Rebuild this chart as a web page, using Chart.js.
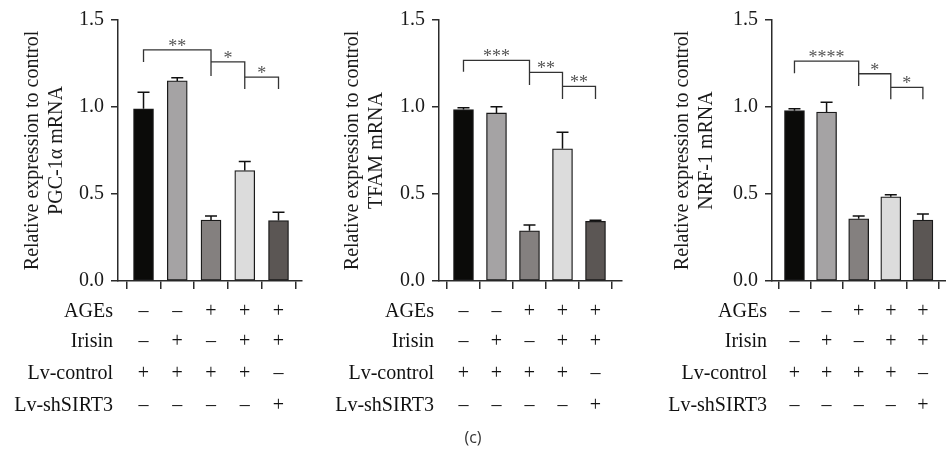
<!DOCTYPE html>
<html>
<head>
<meta charset="utf-8">
<script src="https://cdn.jsdelivr.net/npm/chart.js@4.4.0/dist/chart.umd.min.js"></script>
<style>
  body { margin: 0; background: #fff; }
  #wrap { position: relative; width: 946px; height: 453px; overflow: hidden; }
  canvas { position: absolute; top: 0; }
  #cap { position: absolute; left: 0; width: 946px; top: 426px; text-align: center;
         font: 16px "Open Sans", sans-serif; color: #333; }
</style>
</head>
<body>
<div id="wrap">
  <canvas id="chart1" width="310" height="453" style="left:0px"></canvas>
  <canvas id="chart2" width="316" height="453" style="left:310px"></canvas>
  <canvas id="chart3" width="320" height="453" style="left:626px"></canvas>
  <div id="cap">(c)</div>
</div>
<script>
// treatment table rows under each panel
const rowLabels = ['AGEs', 'Irisin', 'Lv-control', 'Lv-shSIRT3'];
const agesRow   = ['–', '–', '+', '+', '+'];
const irisinRow = ['–', '+', '–', '+', '+'];
const lvCtrlRow = ['+', '+', '+', '+', '–'];
const lvShRow   = ['–', '–', '–', '–', '+'];

const yTicks = [0, 0.5, 1.0, 1.5];
const barColors = ['#0b0b09', '#a5a3a4', '#84807f', '#dcdcdc', '#5b5654'];

// PGC-1α
const pgcMean = [0.99, 1.15, 0.35, 0.635, 0.347];
const pgcErr  = [0.095, 0.018, 0.024, 0.052, 0.048];
// TFAM
const tfamMean = [0.985, 0.966, 0.289, 0.76, 0.343];
const tfamErr  = [0.011, 0.036, 0.033, 0.095, 0.006];
// NRF-1
const nrfMean = [0.979, 0.971, 0.358, 0.484, 0.35];
const nrfErr  = [0.011, 0.056, 0.016, 0.012, 0.035];

// significance brackets: [from bar, to bar, top, left leg end, right leg end, label]
const pgcBrackets  = [[0, 2, 1.328, 1.259, 1.178, '**'], [2, 3, 1.259, 1.259, 1.103, '*'], [3, 4, 1.172, 1.172, 1.103, '*']];
const tfamBrackets = [[0, 2, 1.268, 1.203, 1.126, '***'], [2, 3, 1.199, 1.199, 1.046, '**'], [3, 4, 1.119, 1.119, 1.046, '**']];
const nrfBrackets  = [[0, 2, 1.264, 1.194, 1.121, '****'], [2, 3, 1.191, 1.191, 1.044, '*'], [3, 4, 1.113, 1.113, 1.044, '*']];

const SERIF = '"Liberation Serif", "Times New Roman", serif';
const AXIS = '#2b2b2b';

const extras = {
    id: 'extras',
    afterDatasetsDraw(chart, args, o) {
        const { ctx, chartArea } = chart;
        const x = chart.scales.x, y = chart.scales.y;
        const meta = chart.getDatasetMeta(0);
        ctx.save();
        // error bars (upper only)
        ctx.strokeStyle = '#111';
        ctx.lineWidth = 1.5;
        meta.data.forEach((bar, i) => {
            const top = y.getPixelForValue(o.means[i] + o.errs[i]);
            ctx.beginPath();
            ctx.moveTo(bar.x, bar.y);
            ctx.lineTo(bar.x, top);
            ctx.moveTo(bar.x - 6, top);
            ctx.lineTo(bar.x + 6, top);
            ctx.stroke();
        });
        // brackets
        ctx.strokeStyle = '#333';
        ctx.lineWidth = 1.3;
        ctx.fillStyle = '#555';
        ctx.font = '18px ' + SERIF;
        ctx.textAlign = 'center';
        ctx.textBaseline = 'alphabetic';
        o.brackets.forEach(b => {
            const x1 = x.getPixelForValue(b[0]), x2 = x.getPixelForValue(b[1]);
            const yt = y.getPixelForValue(b[2]);
            ctx.beginPath();
            ctx.moveTo(x1, y.getPixelForValue(b[3]));
            ctx.lineTo(x1, yt);
            ctx.lineTo(x2, yt);
            ctx.lineTo(x2, y.getPixelForValue(b[4]));
            ctx.stroke();
            ctx.fillText(b[5], (x1 + x2) / 2, yt + 2);
        });
        // treatment table
        const rows = [agesRow, irisinRow, lvCtrlRow, lvShRow];
        const offs = [31, 61, 93, 125];
        ctx.fillStyle = '#111';
        ctx.font = '20px ' + SERIF;
        ctx.textBaseline = 'middle';
        rows.forEach((row, r) => {
            const ty = chartArea.bottom + offs[r];
            ctx.textAlign = 'right';
            ctx.fillText(rowLabels[r], chartArea.left - 5, ty);
            ctx.textAlign = 'center';
            row.forEach((s, i) => ctx.fillText(s, x.getPixelForValue(i), ty));
        });
        ctx.restore();
    }
};

function makePanel(id, title, means, errs, brackets, xMin, xMax, yWidth, titlePad, padRight) {
    return new Chart(document.getElementById(id), {
        type: 'bar',
        data: {
            datasets: [{
                data: means.map((v, i) => ({ x: i, y: v })),
                backgroundColor: barColors,
                borderColor: '#1a1a1a',
                borderWidth: 1.3,
                borderSkipped: false,
                barThickness: 20
            }]
        },
        options: {
            responsive: false,
            animation: false,
            layout: { padding: { top: 20, right: padRight, bottom: 0, left: 0 } },
            plugins: {
                legend: { display: false },
                tooltip: { enabled: false },
                extras: { means: means, errs: errs, brackets: brackets }
            },
            scales: {
                x: {
                    type: 'linear',
                    offset: false,
                    min: xMin,
                    max: xMax,
                    afterBuildTicks: s => { s.ticks = means.map((_, i) => ({ value: i })); },
                    afterFit: s => { s.height = 172; },
                    ticks: { display: false },
                    grid: { drawOnChartArea: false, drawTicks: true, tickLength: 8, color: AXIS, lineWidth: 1.5 },
                    border: { display: true, color: AXIS, width: 1.5 }
                },
                y: {
                    min: 0,
                    max: 1.5,
                    afterBuildTicks: s => { s.ticks = yTicks.map(v => ({ value: v })); },
                    afterFit: s => { s.width = yWidth; },
                    ticks: {
                        callback: v => v.toFixed(1),
                        color: '#1a1a1a',
                        padding: 7,
                        font: { family: SERIF, size: 20 }
                    },
                    grid: { drawOnChartArea: false, drawTicks: true, tickLength: 7, color: AXIS, lineWidth: 1.5 },
                    border: { display: true, color: AXIS, width: 1.5 },
                    title: {
                        display: true,
                        text: title,
                        color: '#1a1a1a',
                        padding: { top: titlePad, bottom: 0 },
                        font: { family: SERIF, size: 20, lineHeight: 1.2 }
                    }
                }
            }
        },
        plugins: [extras]
    });
}

makePanel('chart1', ['Relative expression to control', 'PGC-1α mRNA'], pgcMean, pgcErr, pgcBrackets,
    -0.756, 4.696, 118, 21, 8);
makePanel('chart2', ['Relative expression to control', 'TFAM mRNA'], tfamMean, tfamErr, tfamBrackets,
    -0.742, 4.803, 129, 31, 4);
makePanel('chart3', ['Relative expression to control', 'NRF-1 mRNA'], nrfMean, nrfErr, nrfBrackets,
    -0.70, 4.72, 146, 45, 0);
</script>
</body>
</html>
